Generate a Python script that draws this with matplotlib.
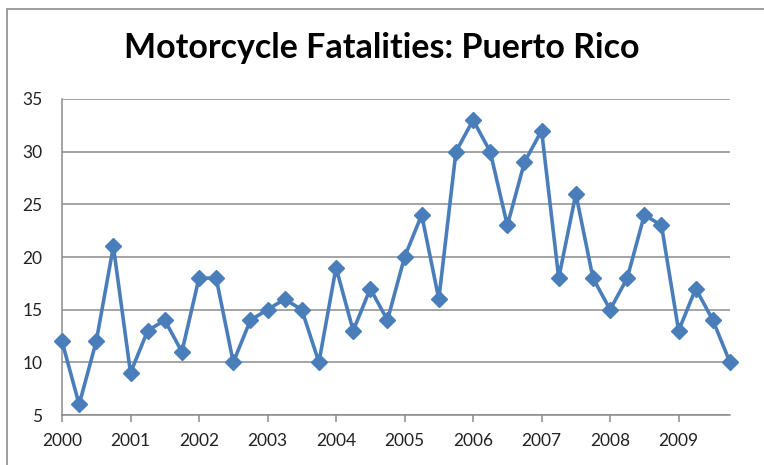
import numpy as np
import matplotlib.pyplot as plt
from matplotlib.patches import Rectangle

# Quarterly motorcycle fatalities, 2000 Q1 .. 2009 Q4
years = ['2000', '2001', '2002', '2003', '2004',
         '2005', '2006', '2007', '2008', '2009']
fatalities = [12, 6, 12, 21,
              9, 13, 14, 11,
              18, 18, 10, 14,
              15, 16, 15, 10,
              19, 13, 17, 14,
              20, 24, 16, 30,
              33, 30, 23, 29,
              32, 18, 26, 18,
              15, 18, 24, 23,
              13, 17, 14, 10]
y_ticks = [5, 10, 15, 20, 25, 30, 35]

W, H = 764, 465
fig = plt.figure(figsize=(W / 100, H / 100), dpi=100)

# outer chart frame (Excel style)
fig.patches.append(Rectangle((7 / W, -0.1), 1.2, 1 - 9 / H + 0.1,
                             transform=fig.transFigure, fill=False,
                             edgecolor='#8c8c8c', linewidth=1.2))

ax = fig.add_axes([62 / W, 1 - 415 / H, (730 - 62) / W, (415 - 99) / H])

x = np.arange(len(fatalities))
ax.plot(x, fatalities, color='#4a7ebb', linewidth=2.6, marker='D',
        markersize=8.5, markeredgecolor='#4a7ebb', markerfacecolor='#4a7ebb',
        zorder=3, clip_on=False)

ax.set_xlim(0, len(fatalities) - 1)
ax.set_ylim(5, 35)
ax.set_yticks(y_ticks)
ax.set_xticks(np.arange(0, len(fatalities), 4))
ax.set_xticklabels(years)

ax.grid(axis='y', color='#8c8c8c', linewidth=1.1)
ax.set_axisbelow(True)
for s in ['top', 'right']:
    ax.spines[s].set_visible(False)
for s in ['left', 'bottom']:
    ax.spines[s].set_color('#8c8c8c')
    ax.spines[s].set_linewidth(1.1)

ax.tick_params(axis='y', length=0, pad=14, labelsize=12.5, labelcolor='#222222')
ax.tick_params(axis='x', length=5, width=1.1, color='#8c8c8c', pad=8,
               labelsize=12.5, labelcolor='#222222')
for lab in ax.get_xticklabels() + ax.get_yticklabels():
    lab.set_family('Lato')

fig.text(0.5, 1 - 48 / H, 'Motorcycle Fatalities: Puerto Rico', ha='center',
         va='center', fontsize=24.5, fontweight='bold', family='Lato', color='black')

fig.savefig('out.png', dpi=100)
